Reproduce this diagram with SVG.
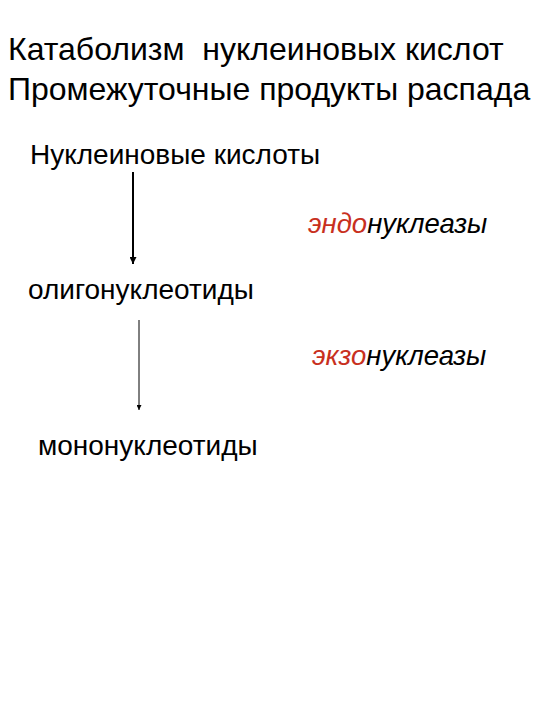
<svg xmlns="http://www.w3.org/2000/svg" width="540" height="720" viewBox="0 0 540 720">
<defs>
<style>
.t{font-family:"Liberation Sans",Arial,sans-serif;fill:#000}
.h{font-size:32px}
.n{font-size:28px}
.e{font-size:27.5px;font-style:italic}
.r{fill:#C8301E}
.c{stroke:#000;fill:none}
</style>
<marker id="ah" viewBox="0 0 10 10" refX="10" refY="5" markerWidth="5" markerHeight="5" markerUnits="userSpaceOnUse" orient="auto">
<path d="M0,0 L10,5 L0,10 z" fill="#000"/>
</marker>
<marker id="ah2" viewBox="0 0 10 10" refX="10" refY="5" markerWidth="7" markerHeight="7" markerUnits="userSpaceOnUse" orient="auto">
<path d="M0,0 L10,5 L0,10 z" fill="#000"/>
</marker>
</defs>
<rect width="540" height="720" fill="#fff"/>
<g id="title">
<text class="t h" x="8" y="60" xml:space="preserve">Катаболизм  нуклеиновых кислот</text>
<text class="t h" x="8" y="100">Промежуточные продукты распада</text>
</g>
<g id="node-nucleic">
<text class="t n" x="30" y="164">Нуклеиновые кислоты</text>
</g>
<g id="node-oligo">
<text class="t n" x="28" y="299">олигонуклеотиды</text>
</g>
<g id="node-mono">
<text class="t n" x="38" y="455">мононуклеотиды</text>
</g>
<g id="label-endo">
<text class="t e" x="308" y="233"><tspan class="r">эндо</tspan>нуклеазы</text>
</g>
<g id="label-exo">
<text class="t e" x="312" y="365"><tspan class="r">экзо</tspan>нуклеазы</text>
</g>
<g id="connectors">
<line class="c" x1="133" y1="172" x2="133" y2="264" stroke-width="2" marker-end="url(#ah2)"/>
<line class="c" x1="139" y1="320" x2="139" y2="410" stroke-width="1" marker-end="url(#ah)"/>
</g>
</svg>
